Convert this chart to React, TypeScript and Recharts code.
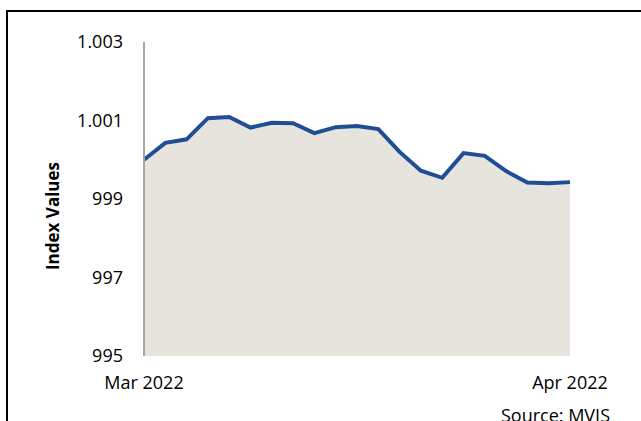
import { AreaChart, Area, XAxis, YAxis } from "recharts";

// one point per observation, Mar 2022 -> Apr 2022
const periods = [0, 1, 2, 3, 4, 5, 6, 7, 8, 9, 10, 11, 12, 13, 14, 15, 16, 17, 18, 19, 20];
const indexValues = [
  1000.0, 1000.43, 1000.52, 1001.06, 1001.09, 1000.82, 1000.94, 1000.93, 1000.68, 1000.83,
  1000.86, 1000.78, 1000.2, 999.72, 999.54, 1000.17, 1000.1, 999.71, 999.42, 999.4, 999.43,
];
const xTicks = [0, 20];
const xTickLabels = ["Mar 2022", "Apr 2022"];
const yTicks = [995, 997, 999, 1001, 1003];

const data = periods.map((p, i) => ({ period: p, value: indexValues[i] }));

const FONT = "'Open Sans', sans-serif";

const fmtY = (v: number) => {
  if (v >= 1000) {
    const s = String(v);
    return s.slice(0, s.length - 3) + "." + s.slice(-3);
  }
  return String(v);
};

const fmtX = (v: number) => xTickLabels[xTicks.indexOf(v)] ?? "";

const YTitle = () => (
  <text
    x={52}
    y={216}
    transform="rotate(-90, 52, 216)"
    textAnchor="middle"
    dominantBaseline="central"
    fontFamily={FONT}
    fontSize={17}
    fontWeight="bold"
    fill="#000"
  >
    Index Values
  </text>
);

export default function App() {
  return (
    <div
      style={{
        position: "absolute",
        left: 0,
        top: 0,
        width: 641,
        height: 421,
        overflow: "hidden",
        background: "#fff",
      }}
    >
      <div
        style={{
          position: "absolute",
          left: 6,
          top: 10,
          width: 700,
          height: 500,
          borderTop: "2px solid #000",
          borderLeft: "2px solid #000",
        }}
      />
      <div style={{ position: "absolute", left: 0, top: 0 }}>
        <AreaChart
          width={641}
          height={421}
          data={data}
          margin={{ top: 42, right: 71, bottom: 35, left: 0 }}
        >
          <XAxis
            dataKey="period"
            type="number"
            domain={[0, 20]}
            ticks={xTicks}
            tickFormatter={fmtX}
            axisLine={false}
            tickLine={false}
            tickSize={0}
            tickMargin={20}
            height={30}
            tick={{ fontFamily: FONT, fontSize: 18, fill: "#000" }}
          />
          <YAxis
            domain={[995, 1003]}
            ticks={yTicks}
            tickFormatter={fmtY}
            width={144}
            axisLine={{ stroke: "#a6a6a6", strokeWidth: 2 }}
            tickLine={false}
            tickSize={0}
            tickMargin={21}
            tick={{ fontFamily: FONT, fontSize: 18, fill: "#000" }}
            label={<YTitle />}
          />
          <Area
            type="linear"
            dataKey="value"
            baseValue={995}
            stroke="#1f4e96"
            strokeWidth={4}
            fill="#e7e3dd"
            fillOpacity={1}
            isAnimationActive={false}
            dot={false}
            activeDot={false}
          />
        </AreaChart>
      </div>
      <div
        style={{
          position: "absolute",
          right: 31,
          top: 403,
          fontFamily: FONT,
          fontSize: 18,
          lineHeight: "24px",
          color: "#000",
          whiteSpace: "nowrap",
        }}
      >
        Source: MVIS
      </div>
    </div>
  );
}
